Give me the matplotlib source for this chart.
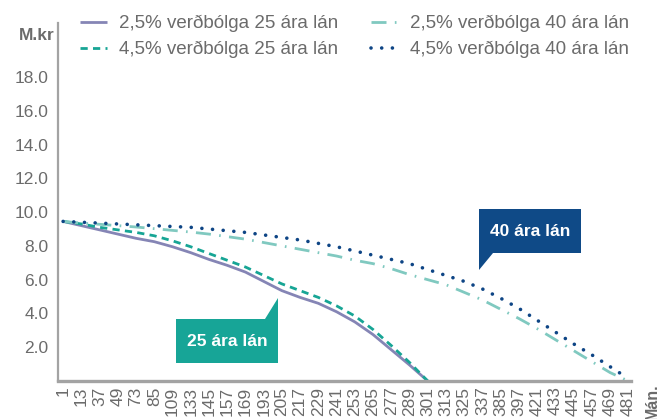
import numpy as np
import matplotlib
matplotlib.use("Agg")
import matplotlib.pyplot as plt
from matplotlib.patches import Polygon

# ---- data ----
months = ["1", "13", "37", "49", "73", "85", "109", "133", "145", "157", "169",
          "193", "205", "217", "229", "241", "253", "265", "277", "289", "301",
          "313", "325", "337", "385", "397", "421", "433", "445", "457", "469", "481"]

infl25_loan25 = [9.45, 9.2, 8.95, 8.7, 8.45, 8.25, 7.95, 7.6, 7.2, 6.85, 6.45,
                 5.9, 5.35, 4.95, 4.6, 4.1, 3.5, 2.75, 1.85, 0.95, 0.0]
infl45_loan25 = [9.45, 9.3, 9.1, 8.95, 8.8, 8.6, 8.3, 7.95, 7.55, 7.15, 6.75,
                 6.25, 5.75, 5.35, 4.95, 4.45, 3.85, 3.05, 2.1, 1.1, 0.0]
infl25_loan40 = [9.45, 9.35, 9.28, 9.2, 9.12, 9.02, 8.92, 8.82, 8.7, 8.55, 8.4,
                 8.2, 8.0, 7.8, 7.6, 7.4, 7.15, 6.95, 6.65, 6.3, 6.0,
                 5.7, 5.25, 4.8, 4.25, 3.7, 3.1, 2.45, 1.8, 1.15, 0.5, 0.0]
infl45_loan40 = [9.45, 9.4, 9.35, 9.3, 9.25, 9.2, 9.15, 9.1, 9.0, 8.9, 8.8,
                 8.65, 8.5, 8.35, 8.15, 7.95, 7.7, 7.45, 7.2, 6.95, 6.6,
                 6.25, 5.9, 5.45, 4.9, 4.3, 3.6, 2.9, 2.2, 1.55, 0.85, 0.15]

series_labels = ["2,5% verðbólga 25 ára lán", "4,5% verðbólga 25 ára lán",
                 "2,5% verðbólga 40 ára lán", "4,5% verðbólga 40 ára lán"]
yticks = [2, 4, 6, 8, 10, 12, 14, 16, 18]

# ---- style ----
plt.rcParams['font.family'] = ['Liberation Sans', 'DejaVu Sans']
GRAY_TXT = "#6b6b6b"
SPINE = "#a3a3a3"
C_SOLID = "#8585b5"
C_DASH = "#17a595"
C_DASHDOT = "#80c9c0"
C_DOT = "#0e4585"
C_BOX25 = "#17a597"
C_BOX40 = "#0f4a87"

W, H = 670, 419
fig = plt.figure(figsize=(W / 100, H / 100), dpi=100)
ax = fig.add_axes([58 / W, (H - 381) / H, (631 - 58) / W, (381 - 23) / H])

x = np.arange(len(months))
n25 = len(infl25_loan25)

l1, = ax.plot(x[:n25], infl25_loan25, color=C_SOLID, lw=2.0, solid_capstyle='butt')
l2, = ax.plot(x[:n25], infl45_loan25, color=C_DASH, lw=2.0, ls=(0, (2.6, 1.9)))
l3, = ax.plot(x, infl25_loan40, color=C_DASHDOT, lw=2.0, ls=(0, (5.4, 3.0, 0.6, 3.0)))
l4, = ax.plot(x, infl45_loan40, color=C_DOT, lw=2.6, ls=(0, (0.01, 2.95)),
              dash_capstyle='round')

ax.set_xlim(-0.28, 31.15)
ax.set_ylim(0, 21.2)

ax.set_xticks(x)
ax.set_xticklabels(months, rotation=90, ha='center', va='top')
ax.set_yticks(yticks)
ax.set_yticklabels([f"{v:.1f}" for v in yticks])
ax.tick_params(axis='both', length=0, colors=GRAY_TXT, labelsize=12.5)
ax.tick_params(axis='y', pad=7)
ax.tick_params(axis='x', pad=4)

for s in ['top', 'right']:
    ax.spines[s].set_visible(False)
ax.spines['left'].set_color(SPINE)
ax.spines['left'].set_linewidth(1.6)
ax.spines['bottom'].set_color(SPINE)
ax.spines['bottom'].set_linewidth(2.4)

# legend
leg = fig.legend([l1, l2, l3, l4], series_labels, ncol=2,
                 loc='upper left', bbox_to_anchor=(80 / W, 1 - 15 / H),
                 frameon=False, fontsize=13.5, handlelength=1.45,
                 handletextpad=0.65, columnspacing=1.7, labelspacing=0.46,
                 borderpad=0, borderaxespad=0)
for t in leg.get_texts():
    t.set_color(GRAY_TXT)

# axis titles
fig.text(19 / W, 1 - 35 / H, "M.kr", fontsize=12.5, fontweight='bold',
         color=GRAY_TXT, ha='left', va='center')
fig.text(652 / W, (H - 383) / H, "Mán.", fontsize=11.5, fontweight='bold',
         color=GRAY_TXT, rotation=90, ha='center', va='top')

# callout boxes
def fx(px):
    return px / W

def fy(py):
    return (H - py) / H

box25 = [(176, 319), (265, 319), (278, 298), (278, 363), (176, 363)]
box40 = [(479, 209), (581, 209), (581, 253), (493, 253), (479, 270)]
for pts, col in [(box25, C_BOX25), (box40, C_BOX40)]:
    poly = Polygon([(fx(a), fy(b)) for a, b in pts], closed=True,
                   transform=fig.transFigure, facecolor=col, edgecolor='none',
                   clip_on=False)
    fig.patches.append(poly)
fig.text(fx((176 + 278) / 2), fy((319 + 363) / 2), "25 ára lán", color='white',
         fontsize=12.5, fontweight='bold', ha='center', va='center')
fig.text(fx((479 + 581) / 2), fy((209 + 253) / 2), "40 ára lán", color='white',
         fontsize=12.5, fontweight='bold', ha='center', va='center')

fig.savefig("out.png", dpi=100)
